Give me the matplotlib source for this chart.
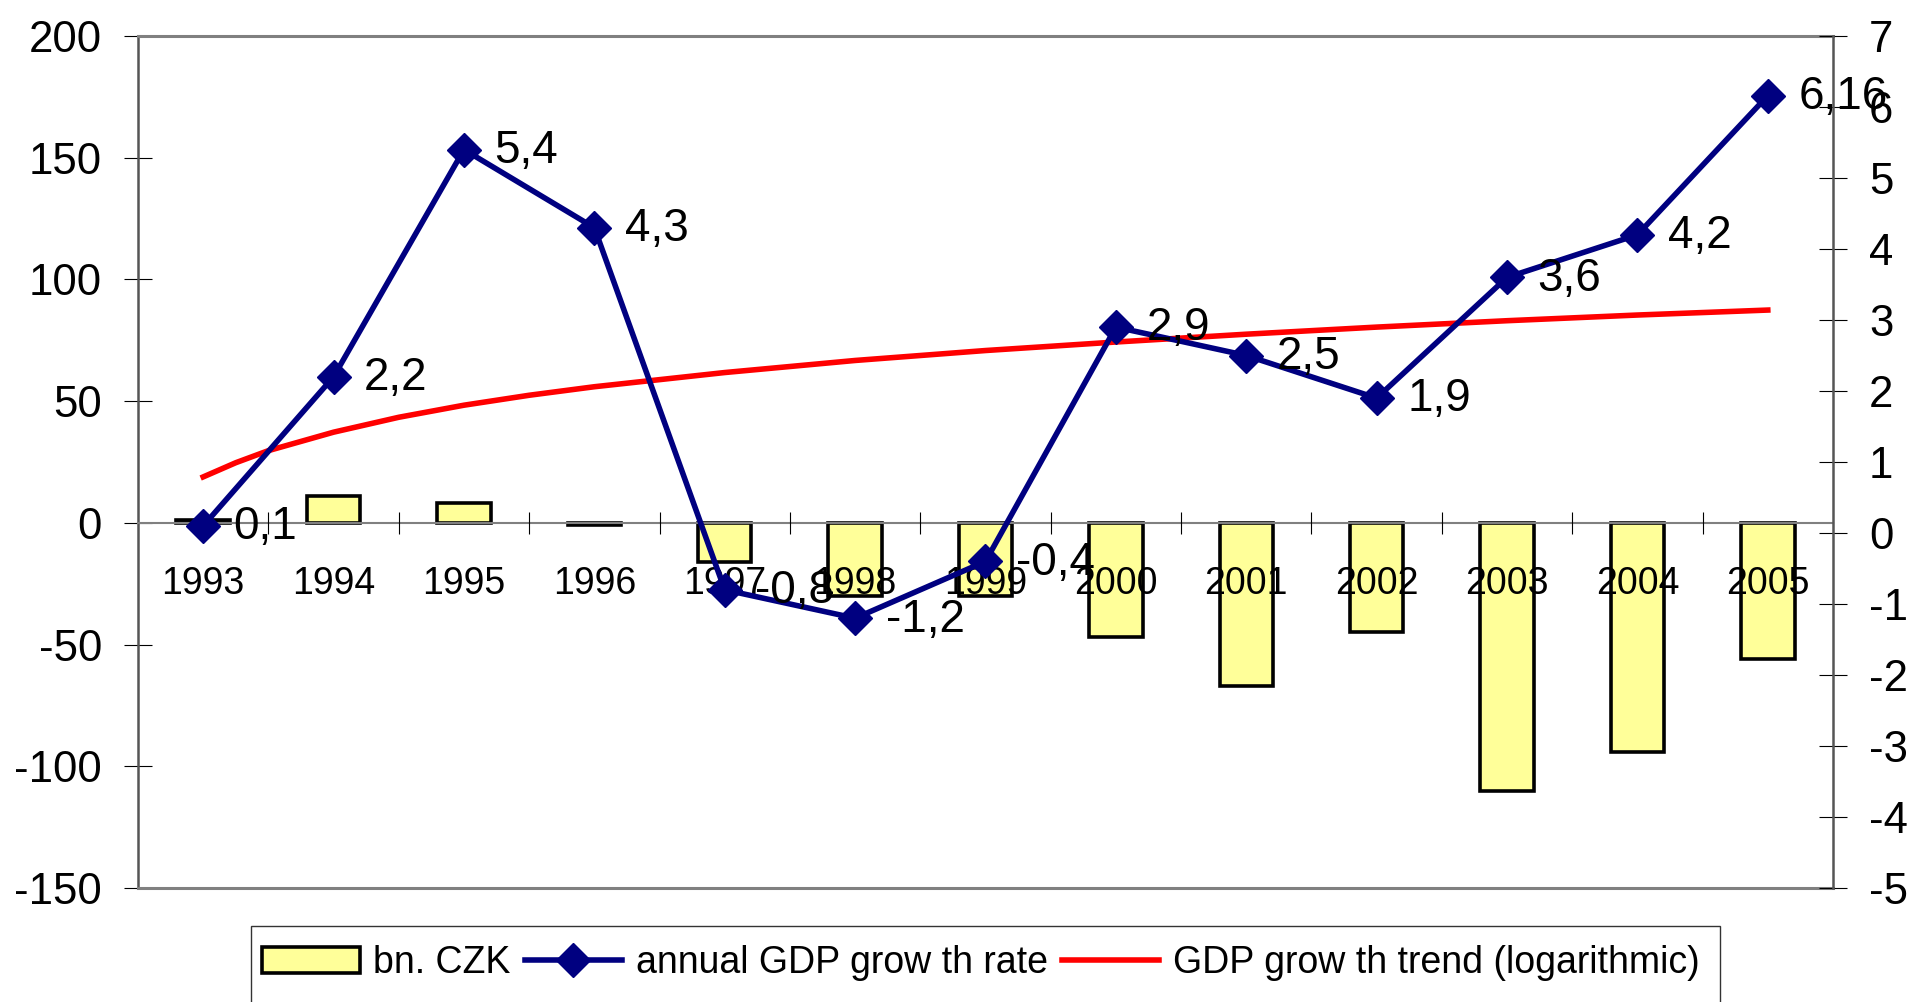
import matplotlib
matplotlib.use("Agg")
import matplotlib.pyplot as plt
from matplotlib.patches import Rectangle
from matplotlib.ticker import FixedLocator, NullFormatter
import numpy as np

plt.rcParams["font.family"] = ["Liberation Sans", "DejaVu Sans"]
plt.rcParams["axes.unicode_minus"] = False

# dados
anos = ["1993", "1994", "1995", "1996", "1997", "1998", "1999",
        "2000", "2001", "2002", "2003", "2004", "2005"]
saldo_bn_czk = [1, 11, 8, -1, -16, -30, -30, -47, -67, -45, -110, -94, -56]
crescimento_pib = [0.1, 2.2, 5.4, 4.3, -0.8, -1.2, -0.4, 2.9, 2.5, 1.9, 3.6, 4.2, 6.16]
tendencia_anos = [1993, 1993.25, 1993.5, 1994, 1994.5, 1995, 1995.5, 1996,
                  1997, 1998, 1999, 2000, 2001, 2002, 2003, 2004, 2005]
tendencia_valores = [0.79, 0.99, 1.16, 1.42, 1.63, 1.80, 1.94, 2.06,
                     2.26, 2.43, 2.57, 2.69, 2.80, 2.90, 2.99, 3.07, 3.14]

W, H = 1916, 1002
fig = plt.figure(figsize=(W / 100, H / 100), dpi=100)
ax = fig.add_axes([138 / W, 1 - 888 / H, (1833 - 138) / W, (888 - 36) / H])
ax2 = ax.twinx()

x = np.arange(len(anos))
x_tend = np.array(tendencia_anos) - 1993

barras = ax.bar(x, saldo_bn_czk, width=0.41, color="#FFFF99",
                edgecolor="black", linewidth=2.6, zorder=2, label="bn. CZK")
ax.set_xlim(-0.5, len(anos) - 0.5)
ax.set_ylim(-150, 200)
ax.set_yticks(np.arange(-150, 201, 50))
ax.xaxis.set_zorder(4)

linha, = ax2.plot(x, crescimento_pib, color="#000080", lw=4.0, marker="D",
                  markersize=17, zorder=4, label="annual GDP grow th rate")
tend, = ax2.plot(x_tend, tendencia_valores, color="#FF0000", lw=4.0, zorder=3,
                 label="GDP grow th trend (logarithmic)")
ax2.set_ylim(-5, 7)
ax2.set_yticks(np.arange(-5, 8, 1))

for xi, v in zip(x, crescimento_pib):
    ax2.annotate(f"{v:g}".replace(".", ","), (xi, v), xytext=(22, -1),
                 textcoords="offset points", ha="left", va="center",
                 fontsize=33, zorder=6)

# eixo das categorias sobre o zero
ax.spines["bottom"].set_position(("data", 0))
ax.spines["bottom"].set_color("#808080")
ax.spines["bottom"].set_linewidth(1.5)
ax.spines["top"].set_color("#808080")
ax.spines["top"].set_linewidth(2.2)
ax.spines["left"].set_color("#555555")
ax.spines["left"].set_linewidth(1.8)
ax.spines["right"].set_visible(False)
for s in ["left", "top", "bottom"]:
    ax2.spines[s].set_visible(False)
ax2.spines["right"].set_color("#555555")
ax2.spines["right"].set_linewidth(1.8)
ax.plot([0, 1], [0, 0], transform=ax.transAxes, color="#808080", lw=2.2,
        clip_on=False, zorder=5)

ax.xaxis.set_major_locator(FixedLocator(x[:-1] + 0.5))
ax.xaxis.set_major_formatter(NullFormatter())
ax.xaxis.set_minor_locator(FixedLocator(x))
ax.set_xticklabels(anos, minor=True)
ax.tick_params(axis="x", which="major", direction="inout", length=16, width=0.8)
ax.tick_params(axis="x", which="minor", length=0, pad=31, labelsize=27)
ax.tick_params(axis="y", direction="inout", length=20, width=0.8,
               labelsize=31.5, pad=16)
ax2.tick_params(axis="y", direction="inout", length=20, width=0.8,
                labelsize=31.5, pad=16)

# legenda
fig.patches.append(Rectangle((251 / W, -0.02), (1720 - 251) / W, 0.02 + (1002 - 926) / H,
                             transform=fig.transFigure, fill=False,
                             edgecolor="#333333", lw=1))
fig.legend([barras, linha, tend],
           ["bn. CZK", "annual GDP grow th rate", "GDP grow th trend (logarithmic)"],
           loc="center left", bbox_to_anchor=(262 / W, 1 - 963 / H), ncol=3,
           frameon=False, fontsize=27, handlelength=2.6, handletextpad=0.37,
           columnspacing=0.37, borderpad=0, borderaxespad=0)

fig.savefig("out.png", dpi=100)
plt.close(fig)
